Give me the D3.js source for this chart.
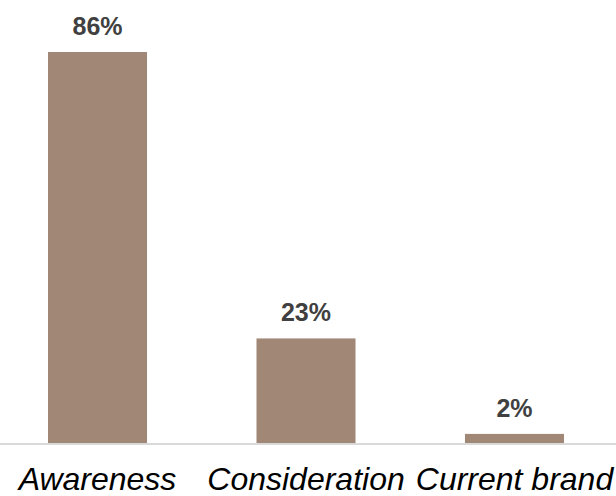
<!DOCTYPE html>
<html>
<head>
<meta charset="utf-8">
<script src="https://cdn.jsdelivr.net/npm/d3@7"></script>
<style>
  html, body { margin: 0; padding: 0; background: #ffffff; }
  svg { display: block; }
</style>
</head>
<body>
<svg id="chart" width="616" height="496"></svg>
<script>
// Funnel stages and their shares (%)
const categories = ["Awareness", "Consideration", "Current brand"];
const values = [86, 23, 2];
const valueLabels = ["86%", "23%", "2%"];

const width = 616, height = 496;
const svg = d3.select("#chart");

const baseline = 443;
const x = d3.scaleBand()
  .domain(categories)
  .range([48, 564])
  .paddingInner(0.525)
  .paddingOuter(0);

const y = d3.scaleLinear()
  .domain([0, d3.max(values)])
  .range([baseline, 52]);

// Baseline rule across the full width
svg.append("line")
  .attr("x1", 0).attr("x2", width)
  .attr("y1", baseline + 1).attr("y2", baseline + 1)
  .attr("stroke", "#d9d9d9")
  .attr("stroke-width", 2);

// Bars
svg.selectAll("rect.bar")
  .data(categories)
  .join("rect")
  .attr("class", "bar")
  .attr("x", d => x(d))
  .attr("width", x.bandwidth())
  .attr("y", (d, i) => y(values[i]))
  .attr("height", (d, i) => baseline - y(values[i]))
  .attr("fill", "#a08776");

// Value labels above bars
svg.selectAll("text.value")
  .data(categories)
  .join("text")
  .attr("class", "value")
  .attr("x", d => x(d) + x.bandwidth() / 2)
  .attr("y", (d, i) => y(values[i]) - 17)
  .attr("text-anchor", "middle")
  .attr("font-family", "Liberation Sans, Arial, sans-serif")
  .attr("font-weight", "bold")
  .attr("font-size", 25)
  .attr("fill", "#404040")
  .text((d, i) => valueLabels[i]);

// Category axis labels
const xAxis = d3.axisBottom(x).tickSize(0).tickPadding(0);
const gx = svg.append("g")
  .attr("transform", `translate(0,${baseline})`)
  .call(xAxis);
gx.select(".domain").remove();
gx.selectAll("text")
  .attr("dy", null)
  .attr("y", 47)
  .attr("font-family", "Liberation Sans, Arial, sans-serif")
  .attr("font-style", "italic")
  .attr("font-size", 32)
  .attr("fill", "#000000");
</script>
</body>
</html>
